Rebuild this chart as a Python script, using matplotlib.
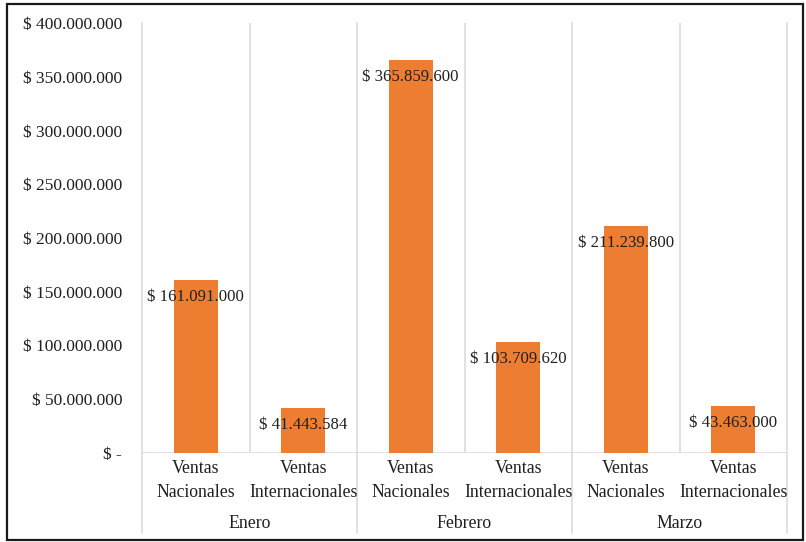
import matplotlib
matplotlib.use("Agg")
import matplotlib.pyplot as plt
from matplotlib.patches import Rectangle
import numpy as np

plt.rcParams.update({
    "font.family": ["Liberation Serif", "DejaVu Serif"],
    "font.size": 12,
})

# data
months = ["Enero", "Febrero", "Marzo"]
sub_labels = ["Ventas\nNacionales", "Ventas\nInternacionales"]
ventas = [161091000, 41443584, 365859600, 103709620, 211239800, 43463000]
y_ticks = [0, 50000000, 100000000, 150000000, 200000000, 250000000,
           300000000, 350000000, 400000000]

C_BAR = "#ED7D31"
C_GRID = "#D9D9D9"
C_TXT = "#1f1f1f"


def fmt_money(v):
    if v == 0:
        return "$ -"
    return "$ " + f"{v:,.0f}".replace(",", ".")


fig = plt.figure(figsize=(8.06, 5.42), dpi=100)
W, H = 806, 542
ax = fig.add_axes([142 / W, 1 - 453 / H, (787 - 142) / W, (453 - 23) / H])

x = np.arange(len(ventas))
ax.bar(x, ventas, width=0.41, color=C_BAR, zorder=3)

for xi, v in zip(x, ventas):
    ax.annotate(fmt_money(v), (xi, v), xytext=(0, -17), textcoords="offset pixels",
                ha="center", va="center", fontsize=12.1, color=C_TXT, zorder=4)

ax.set_xlim(-0.5, len(ventas) - 0.5)
ax.set_ylim(0, 400000000)
ax.set_yticks(y_ticks)
ax.set_yticklabels([fmt_money(v) for v in y_ticks])
ax.tick_params(axis="y", length=0, pad=14.4, labelsize=12.5, labelcolor=C_TXT)
ax.set_xticks([])
for s in ax.spines.values():
    s.set_visible(False)

# separators
trans = ax.get_xaxis_transform()
for xb in np.arange(0.5, len(ventas), 2):
    ax.plot([xb, xb], [0, 1], transform=trans, color=C_GRID, lw=1.1, zorder=1)
for xb in np.arange(-0.5, len(ventas), 2):
    ax.plot([xb, xb], [-0.186, 1], transform=trans, color=C_GRID, lw=1.1,
            zorder=1, clip_on=False)
ax.axhline(0, color=C_GRID, lw=1.1, zorder=2)

# category labels
for i in range(len(ventas)):
    top, bottom = sub_labels[i % 2].split("\n")
    ax.text(i, -0.035, top, transform=trans, ha="center", va="center",
            fontsize=12.8, color=C_TXT)
    ax.text(i, -0.091, bottom, transform=trans, ha="center", va="center",
            fontsize=12.8, color=C_TXT)
for j, m in enumerate(months):
    ax.text(2 * j + 0.5, -0.163, m, transform=trans, ha="center", va="center",
            fontsize=12.8, color=C_TXT)

# outer border
fig.patches.append(Rectangle((7.5 / W, 1 - 540 / H), (803 - 7.5) / W, (540 - 4) / H,
                             transform=fig.transFigure, fill=False,
                             edgecolor="#1a1a1a", lw=1.6))

fig.savefig("out.png", dpi=100)
